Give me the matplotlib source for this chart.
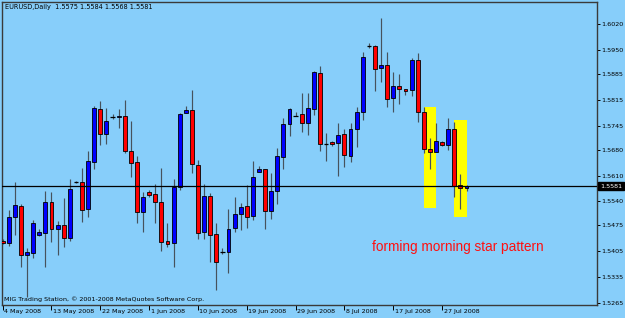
import matplotlib
matplotlib.use("Agg")
import matplotlib.pyplot as plt
import matplotlib.transforms as mtransforms
import pandas as pd

# EURUSD daily candles, 4 May 2008 .. 31 Jul 2008 (Sun-Fri bars)
opens = [1.5434, 1.5428, 1.5499, 1.5528, 1.5395, 1.5401, 1.5449, 1.5455, 1.5538, 1.5465,
         1.5475, 1.5441, 1.5593, 1.5593, 1.5519, 1.5647, 1.5789, 1.5722, 1.5768, 1.5768,
         1.5772, 1.5676, 1.5646, 1.5510, 1.5565, 1.5560, 1.5539, 1.5434, 1.5427, 1.5580,
         1.5780, 1.5787, 1.5638, 1.5458, 1.5555, 1.5452, 1.5404, 1.5404, 1.5467, 1.5505,
         1.5528, 1.5500, 1.5620, 1.5627, 1.5515, 1.5569, 1.5661, 1.5749, 1.5772, 1.5776,
         1.5751, 1.5790, 1.5887, 1.5694, 1.5700, 1.5697, 1.5722, 1.5664, 1.5736, 1.5783,
         1.5961, 1.5960, 1.5900, 1.5909, 1.5819, 1.5853, 1.5843, 1.5841, 1.5923, 1.5781,
         1.5681, 1.5674, 1.5702, 1.5693, 1.5736, 1.5584, 1.5575]
highs = [1.5437, 1.5517, 1.5593, 1.5533, 1.5414, 1.5490, 1.5464, 1.5568, 1.5565, 1.5487,
         1.5548, 1.5601, 1.5596, 1.5630, 1.5676, 1.5798, 1.5812, 1.5792, 1.5776, 1.5789,
         1.5814, 1.5758, 1.5663, 1.5565, 1.5571, 1.5587, 1.5630, 1.5481, 1.5600, 1.5779,
         1.5798, 1.5841, 1.5652, 1.5587, 1.5562, 1.5482, 1.5413, 1.5519, 1.5551, 1.5536,
         1.5584, 1.5649, 1.5636, 1.5628, 1.5618, 1.5684, 1.5766, 1.5792, 1.5781, 1.5832,
         1.5832, 1.5893, 1.5907, 1.5726, 1.5703, 1.5751, 1.5736, 1.5751, 1.5796, 1.5945,
         1.5968, 1.5963, 1.6035, 1.5945, 1.5891, 1.5884, 1.5845, 1.5927, 1.5942, 1.5795,
         1.5712, 1.5751, 1.5703, 1.5766, 1.5756, 1.5613, 1.5584]
lows = [1.5425, 1.5420, 1.5449, 1.5363, 1.5282, 1.5388, 1.5447, 1.5363, 1.5429, 1.5395,
        1.5417, 1.5434, 1.5590, 1.5483, 1.5499, 1.5627, 1.5693, 1.5694, 1.5762, 1.5739,
        1.5672, 1.5607, 1.5482, 1.5458, 1.5553, 1.5481, 1.5407, 1.5417, 1.5362, 1.5571,
        1.5779, 1.5616, 1.5437, 1.5437, 1.5375, 1.5300, 1.5398, 1.5345, 1.5458, 1.5463,
        1.5467, 1.5490, 1.5619, 1.5465, 1.5492, 1.5533, 1.5627, 1.5717, 1.5771, 1.5729,
        1.5720, 1.5774, 1.5676, 1.5650, 1.5691, 1.5610, 1.5632, 1.5647, 1.5688, 1.5760,
        1.5954, 1.5839, 1.5864, 1.5796, 1.5781, 1.5804, 1.5828, 1.5825, 1.5754, 1.5670,
        1.5627, 1.5673, 1.5690, 1.5679, 1.5553, 1.5519, 1.5568]
closes = [1.5428, 1.5499, 1.5530, 1.5395, 1.5404, 1.5482, 1.5457, 1.5538, 1.5465, 1.5476,
          1.5441, 1.5574, 1.5593, 1.5517, 1.5649, 1.5792, 1.5722, 1.5758, 1.5768, 1.5771,
          1.5677, 1.5645, 1.5510, 1.5553, 1.5558, 1.5538, 1.5431, 1.5425, 1.5580, 1.5776,
          1.5787, 1.5640, 1.5455, 1.5555, 1.5449, 1.5375, 1.5404, 1.5465, 1.5505, 1.5526,
          1.5499, 1.5607, 1.5628, 1.5514, 1.5569, 1.5664, 1.5749, 1.5789, 1.5772, 1.5751,
          1.5792, 1.5889, 1.5694, 1.5694, 1.5694, 1.5720, 1.5666, 1.5736, 1.5781, 1.5932,
          1.5961, 1.5897, 1.5909, 1.5816, 1.5853, 1.5844, 1.5839, 1.5923, 1.5783, 1.5682,
          1.5673, 1.5704, 1.5693, 1.5736, 1.5582, 1.5575, 1.5581]

ytick_labels = ["1.6020", "1.5950", "1.5885", "1.5815", "1.5745", "1.5680",
                "1.5610", "1.5540", "1.5475", "1.5405", "1.5335", "1.5265"]
last_price = 1.5581

# highlight boxes: (first bar, last bar, top, bottom)
highlights = [(69, 71, 1.5795, 1.5523), (74, 76, 1.5759, 1.5498)]
note = "forming morning star pattern"

days = pd.date_range("2008-05-04", periods=100, freq="D")
days = days[days.dayofweek != 5][:len(opens)]

bg = "#87CEFA"
fig = plt.figure(figsize=(6.25, 3.18), dpi=100, facecolor=bg)
ax = fig.add_axes([2 / 625, 13 / 318, 594.5 / 625, 303 / 318])
ax.set_facecolor(bg)

for x0, x1, top, bot in highlights:
    ax.add_patch(plt.Rectangle((x0, bot), x1 - x0, top - bot, facecolor="#FFFF00",
                               edgecolor="none", zorder=1))

for i in range(len(opens)):
    o, h, l, c = opens[i], highs[i], lows[i], closes[i]
    ax.vlines(i, l, h, color="#46525c", lw=0.85, zorder=2)
    if o == c:
        ax.hlines(o, i - 0.35, i + 0.35, color="black", lw=0.9, zorder=3)
        continue
    col = "#0000FF" if c > o else "#FF0000"
    ax.bar(i, abs(c - o), bottom=min(o, c), width=0.64, color=col,
           edgecolor="black", linewidth=0.6, zorder=3)

ax.axhline(last_price, color="black", lw=0.9, zorder=4)

ax.set_xlim(-0.11, 97.3)
ax.set_ylim(1.52596, 1.60795)

for s in ax.spines.values():
    s.set_color("#3a3a3a")
    s.set_linewidth(1)

# price axis on the right
ytick_vals = [float(t) for t in ytick_labels]
ax.yaxis.tick_right()
ax.set_yticks(ytick_vals)
ax.set_yticklabels(ytick_labels)
ax.tick_params(axis="y", direction="out", length=2, width=0.7, pad=1.5,
               labelsize=4.6, colors="black")

# date axis
tick_idx = list(range(0, len(opens), 8))
ax.set_xticks(tick_idx)
ax.set_xticklabels([])
ax.tick_params(axis="x", direction="out", length=3.5, width=0.7, colors="black")
trans = mtransforms.blended_transform_factory(ax.transData, ax.transAxes)
trans = mtransforms.offset_copy(trans, fig=fig, x=1.5, y=-6.8, units="dots")
for i in tick_idx:
    d = days[i]
    ax.text(i, 0, f"{d.day} {d:%b %Y}", transform=trans, ha="left", va="center",
            fontsize=4.6, color="black", clip_on=False)

# current price tag
tag = mtransforms.blended_transform_factory(ax.transAxes, ax.transData)
tag = mtransforms.offset_copy(tag, fig=fig, x=3.5, y=0, units="dots")
ax.text(1.0, last_price, f"{last_price:.4f}", transform=tag, ha="left", va="center",
        fontsize=4.6, color="white", clip_on=False,
        bbox=dict(facecolor="black", edgecolor="black", pad=1.2))

ax.text(60.5, 1.5417, note, color="#FF1010", fontsize=9.8, family="Liberation Sans",
        ha="left", va="center", zorder=5)

fig.text(5 / 625, 1 - 7.5 / 318, "EURUSD,Daily  1.5575 1.5584 1.5568 1.5581",
         fontsize=4.7, ha="left", va="center", color="black")
fig.text(4 / 625, 1 - 299 / 318,
         "MIG Trading Station, \u00a9 2001-2008 MetaQuotes Software Corp.",
         fontsize=4.6, ha="left", va="center", color="black")

fig.savefig("out.png", dpi=100, facecolor=bg)
